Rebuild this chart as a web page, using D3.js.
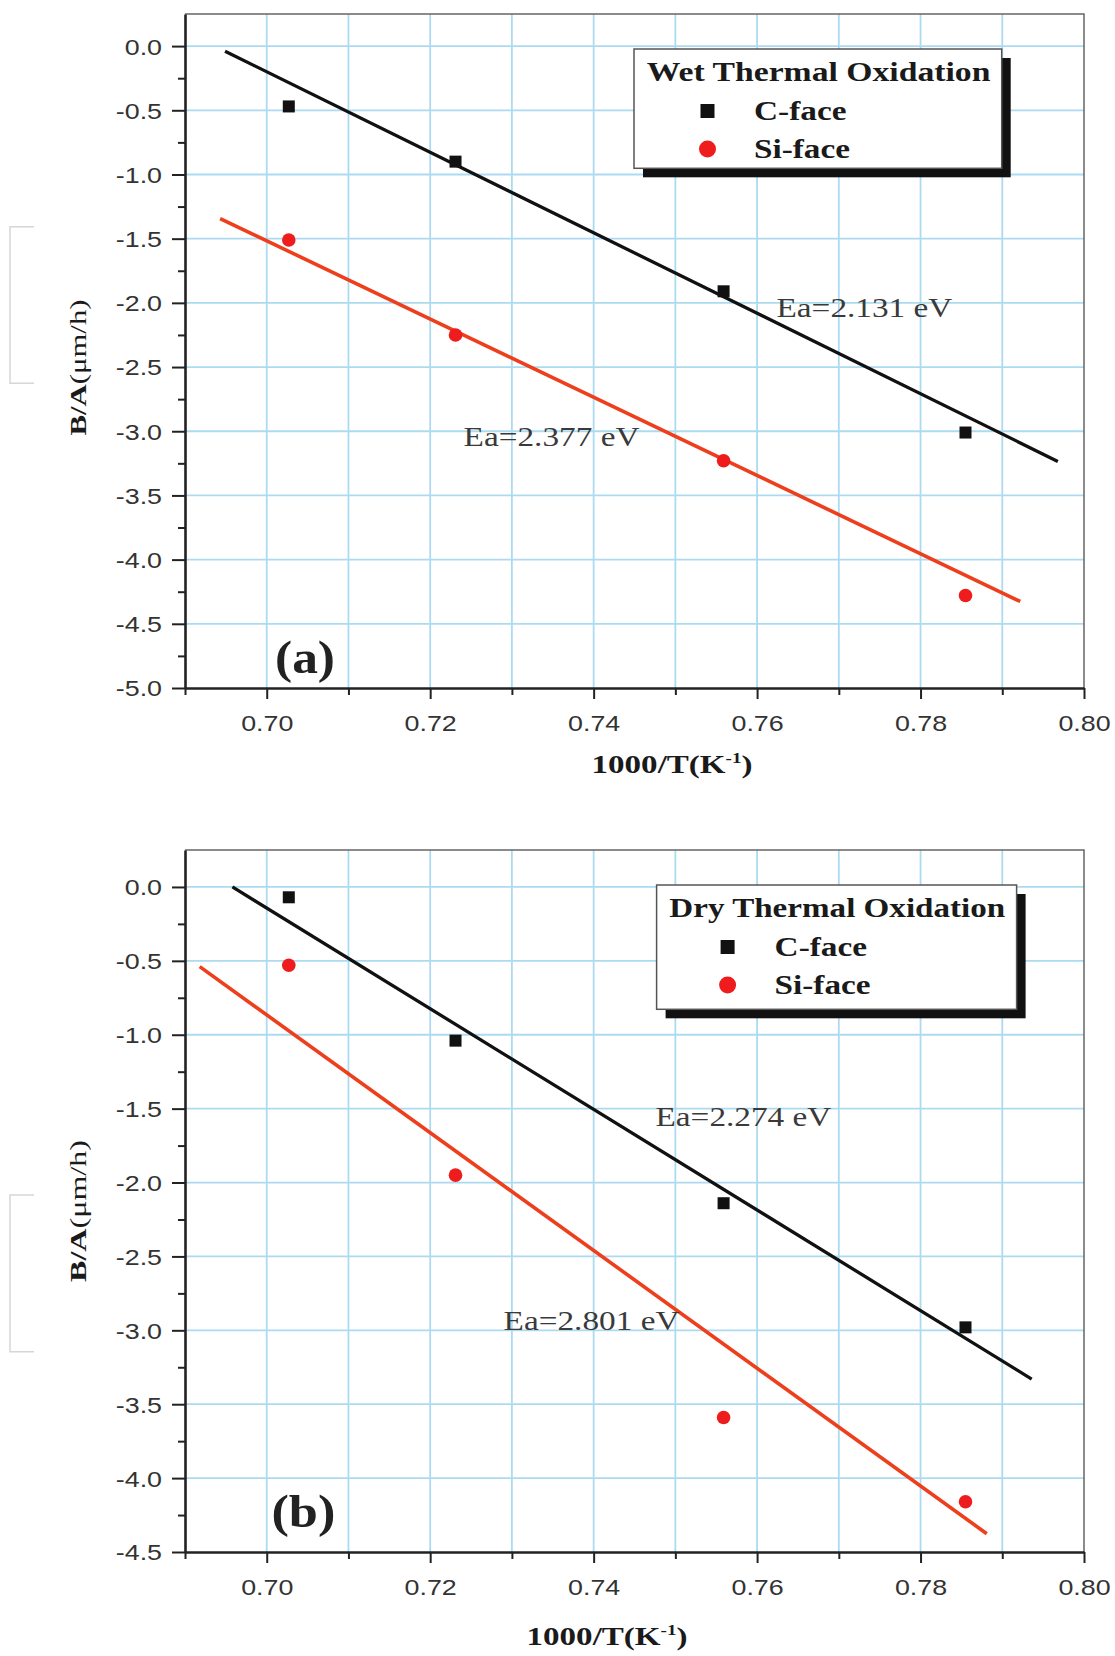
<!DOCTYPE html>
<html>
<head>
<meta charset="utf-8">
<script src="https://cdn.jsdelivr.net/npm/d3@7"></script>
<style>
  body { margin: 0; background: #fff; }
  svg { display: block; }
</style>
</head>
<body>
<script>
// 1000/T values shared by both panels
var invT = [0.7027, 0.7231, 0.7559, 0.7855];

// (a) wet oxidation
var wetC  = [-0.47, -0.90, -1.91, -3.01];
var wetSi = [-1.51, -2.25, -3.23, -4.28];
// (b) dry oxidation
var dryC  = [-0.07, -1.04, -2.14, -2.98];
var drySi = [-0.53, -1.95, -3.59, -4.16];

// fitted Arrhenius lines, endpoints
var wetFitCx  = [0.6949, 0.7968], wetFitCy  = [-0.04, -3.235];
var wetFitSix = [0.6943, 0.7922], wetFitSiy = [-1.343, -4.326];
var dryFitCx  = [0.6958, 0.7936], dryFitCy  = [0.00, -3.33];
var dryFitSix = [0.6918, 0.7881], dryFitSiy = [-0.539, -4.376];

var xMajor = [0.70, 0.72, 0.74, 0.76, 0.78, 0.80];
var xMinor = [0.69, 0.71, 0.73, 0.75, 0.77, 0.79];
var yMajorWet = [0, -0.5, -1.0, -1.5, -2.0, -2.5, -3.0, -3.5, -4.0, -4.5, -5.0];
var yMajorDry = [0, -0.5, -1.0, -1.5, -2.0, -2.5, -3.0, -3.5, -4.0, -4.5];

var SERIF = "'Liberation Serif', 'Times New Roman', serif",
    SANS = "'Liberation Sans', Arial, sans-serif";

var svg = d3.select("body").append("svg")
    .attr("width", 1115)
    .attr("height", 1656);

var x = d3.scaleLinear().domain([0.69, 0.80]).range([185, 1084]);

// text squeezed/stretched to the width it has in the scan
function putText(parent, x0, y0, width, anchor, build, rot) {
  var g = parent.append("g")
      .attr("transform", "translate(" + x0 + "," + y0 + ")" + (rot ? " rotate(" + rot + ")" : ""));
  var t = g.append("text").attr("text-anchor", anchor);
  build(t);
  var len = t.node().getComputedTextLength();
  t.attr("transform", "scale(" + (width / len) + ",1)");
  return t;
}

function minorOf(major) {
  var out = [];
  for (var i = 0; i < major.length - 1; i++) out.push((major[i] + major[i + 1]) / 2);
  return out;
}

function drawPanel(p) {
  var y = d3.scaleLinear().domain(p.yDomain).range(p.yRange);
  var top = p.yRange[1], bottom = p.yRange[0];
  var g = svg.append("g");

  // stray scan frame on the far left
  g.append("path")
      .attr("d", "M34," + p.bracket[0] + "H10V" + p.bracket[1] + "H34")
      .attr("fill", "none")
      .attr("stroke", "#d6d6d6")
      .attr("stroke-width", 1.5);

  // grid
  var gx = xMajor.concat(xMinor).filter(function(d) { return d > 0.695 && d < 0.795; });
  g.append("g").selectAll("line").data(gx).enter().append("line")
      .attr("x1", function(d) { return x(d); })
      .attr("x2", function(d) { return x(d); })
      .attr("y1", top).attr("y2", bottom)
      .attr("stroke", "#acdbf1").attr("stroke-width", 1.8);
  g.append("g").selectAll("line").data(p.yMajor.slice(0, -1)).enter().append("line")
      .attr("x1", 185).attr("x2", 1084)
      .attr("y1", function(d) { return y(d); })
      .attr("y2", function(d) { return y(d); })
      .attr("stroke", "#acdbf1").attr("stroke-width", 1.8);

  // top and right frame
  g.append("path")
      .attr("d", "M185," + top + "H1084V" + bottom)
      .attr("fill", "none").attr("stroke", "#666").attr("stroke-width", 1.5);

  // axes
  var kx = 1.22;
  var ax = g.append("g")
      .attr("transform", "translate(0," + bottom + ")")
      .call(d3.axisBottom(x).tickValues(xMajor).tickSize(11).tickSizeOuter(0)
        .tickFormat(function(d) { return d.toFixed(2); }));
  g.append("g")
      .attr("transform", "translate(0," + bottom + ")")
      .call(d3.axisBottom(x).tickValues(xMinor).tickSize(7).tickFormat(function() { return ""; }))
      .select(".domain").remove();
  var ay = g.append("g")
      .attr("transform", "translate(185,0)")
      .call(d3.axisLeft(y).tickValues(p.yMajor).tickSize(13).tickSizeOuter(0)
        .tickFormat(function(d) { return d.toFixed(1); }));
  g.append("g")
      .attr("transform", "translate(185,0)")
      .call(d3.axisLeft(y).tickValues(minorOf(p.yMajor)).tickSize(7).tickFormat(function() { return ""; }))
      .select(".domain").remove();

  g.selectAll(".domain").attr("stroke", "#222").attr("stroke-width", 2.6);
  g.selectAll(".tick line").attr("stroke", "#222").attr("stroke-width", 2);
  g.selectAll(".tick text")
      .attr("fill", "#333")
      .style("font-family", SANS)
      .style("font-size", "22px");
  ax.selectAll(".tick text")
      .attr("y", 43).attr("dy", null)
      .attr("transform", "scale(" + kx + ",1)");
  ay.selectAll(".tick text")
      .attr("x", -23 / kx).attr("dy", "0.36em")
      .attr("transform", "scale(" + kx + ",1)");

  // fit lines
  var line = d3.line()
      .x(function(d) { return x(d[0]); })
      .y(function(d) { return y(d[1]); });
  g.append("path")
      .datum(d3.zip(p.fitCx, p.fitCy))
      .attr("d", line)
      .attr("fill", "none").attr("stroke", "#111").attr("stroke-width", 3.3);
  g.append("path")
      .datum(d3.zip(p.fitSix, p.fitSiy))
      .attr("d", line)
      .attr("fill", "none").attr("stroke", "#ee3f1d").attr("stroke-width", 3.6);

  // points
  g.append("g").selectAll("rect").data(d3.zip(invT, p.c)).enter().append("rect")
      .attr("x", function(d) { return x(d[0]) - 6; })
      .attr("y", function(d) { return y(d[1]) - 6; })
      .attr("width", 12).attr("height", 12)
      .attr("fill", "#111");
  g.append("g").selectAll("circle").data(d3.zip(invT, p.si)).enter().append("circle")
      .attr("cx", function(d) { return x(d[0]); })
      .attr("cy", function(d) { return y(d[1]); })
      .attr("r", 6.8)
      .attr("fill", "#ee1c1c");

  // legend
  var L = p.legend;
  g.append("rect")
      .attr("x", L.x + 9).attr("y", L.y + 9)
      .attr("width", L.w).attr("height", L.h)
      .attr("fill", "#111");
  g.append("rect")
      .attr("x", L.x).attr("y", L.y)
      .attr("width", L.w).attr("height", L.h)
      .attr("fill", "#fff").attr("stroke", "#555").attr("stroke-width", 1.5);
  putText(g, L.x + 12.7, L.y + 32, L.w - 24, "start", function(t) {
    t.style("font-family", SERIF).style("font-size", "28px").style("font-weight", "bold")
      .attr("fill", "#1a1a1a").text(p.title);
  });
  g.append("rect")
      .attr("x", L.x + L.mx - 7).attr("y", L.y + 62 - 7)
      .attr("width", 14).attr("height", 14).attr("fill", "#111");
  g.append("circle")
      .attr("cx", L.x + L.mx).attr("cy", L.y + 100)
      .attr("r", 8.5).attr("fill", "#ee1c1c");
  putText(g, L.x + L.tx, L.y + 71, 92.5, "start", function(t) {
    t.style("font-family", SERIF).style("font-size", "27px").style("font-weight", "bold")
      .attr("fill", "#1a1a1a").text("C-face");
  });
  putText(g, L.x + L.tx, L.y + 108.5, 96, "start", function(t) {
    t.style("font-family", SERIF).style("font-size", "27px").style("font-weight", "bold")
      .attr("fill", "#1a1a1a").text("Si-face");
  });

  // activation energy notes
  p.notes.forEach(function(n) {
    putText(g, n[1], n[2], 176, "start", function(t) {
      t.style("font-family", SERIF).style("font-size", "28px")
        .attr("fill", "#3a3a3a").text(n[0]);
    });
  });

  // panel letter
  putText(g, p.letter[1], p.letter[2], p.letter[3], "start", function(t) {
    t.style("font-family", SERIF).style("font-size", "46px").style("font-weight", "bold")
      .attr("fill", "#222").text(p.letter[0]);
  });

  // x label
  putText(g, p.xlab[0], p.xlab[1], 161, "middle", function(t) {
    t.style("font-family", SERIF).style("font-size", "26px").style("font-weight", "bold")
      .attr("fill", "#1a1a1a");
    t.append("tspan").text("1000/T(K");
    t.append("tspan").attr("dy", -10).style("font-size", "15px").text("-1");
    t.append("tspan").attr("dy", 10).text(")");
  });

  // y label
  putText(g, 86, p.ylab[0], p.ylab[1], "middle", function(t) {
    t.style("font-family", SERIF).style("font-size", "24px").attr("fill", "#1a1a1a");
    t.append("tspan").style("font-weight", "bold").text("B/A");
    t.append("tspan").text("(\u03bcm/h)");
  }, -90);
}

drawPanel({
  yDomain: [-5, 0.25], yRange: [688, 14], yMajor: yMajorWet,
  c: wetC, si: wetSi,
  fitCx: wetFitCx, fitCy: wetFitCy, fitSix: wetFitSix, fitSiy: wetFitSiy,
  title: "Wet Thermal Oxidation",
  legend: {x: 634, y: 49, w: 367.7, h: 119.3, mx: 73.5, tx: 120},
  notes: [["Ea=2.131 eV", 776.5, 317], ["Ea=2.377 eV", 463.6, 446]],
  letter: ["(a)", 275, 673.3, 60],
  xlab: [672, 773],
  ylab: [367.5, 136],
  bracket: [226.7, 383.3]
});

drawPanel({
  yDomain: [-4.5, 0.25], yRange: [1552, 850], yMajor: yMajorDry,
  c: dryC, si: drySi,
  fitCx: dryFitCx, fitCy: dryFitCy, fitSix: dryFitSix, fitSiy: dryFitSiy,
  title: "Dry Thermal Oxidation",
  legend: {x: 656.6, y: 885, w: 360, h: 124.3, mx: 71, tx: 118},
  notes: [["Ea=2.274 eV", 655.5, 1126], ["Ea=2.801 eV", 503.6, 1330]],
  letter: ["(b)", 271.4, 1526.7, 64],
  xlab: [607, 1645],
  ylab: [1211, 142],
  bracket: [1195, 1351.7]
});
</script>
</body>
</html>
